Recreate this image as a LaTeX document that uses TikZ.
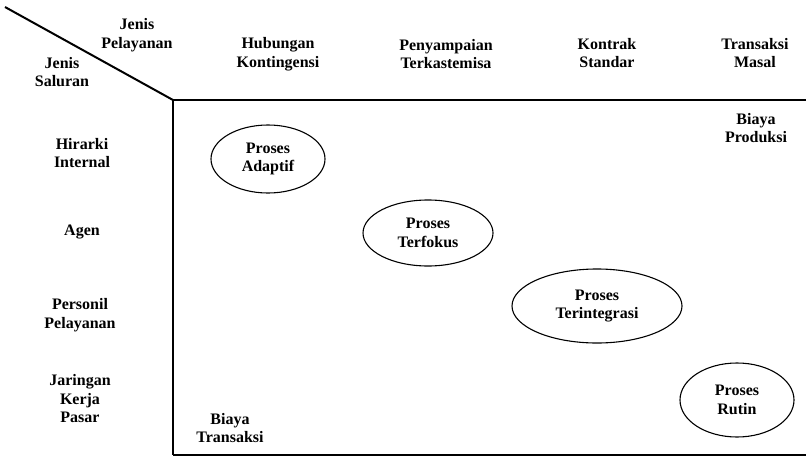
\documentclass[tikz,border=0pt]{standalone}
\usepackage{fontspec}
\setmainfont{Liberation Serif}
\usepackage{tikz}
\usetikzlibrary{shapes.geometric}

\tikzset{
	heading/.style={align=center,inner sep=0pt,font=\fontsize{16}{18.5}\selectfont\bfseries},
	process/.style={shape=ellipse,draw=black,line width=1.1pt,inner sep=0pt,align=center,font=\fontsize{16}{18.5}\selectfont\bfseries}
}

\begin{document}
\begin{tikzpicture}[x=1pt,y=-1pt]
					\useasboundingbox (0,0) rectangle (806,458);
					\coordinate (TL) at (5,7);
					\coordinate (C) at (173,100);
					\coordinate (TR) at (806,100);
					\coordinate (BL) at (173,455);
					\coordinate (BR) at (806,455);
					
					\node[heading] (JP) at (137,35) {Jenis\\Pelayanan};
					\node[heading] (JS) at (62,72) {Jenis\\Saluran};
					\node[heading] (HK) at (278,54) {Hubungan\\Kontingensi};
					\node[heading] (PT) at (446,54) {Penyampaian\\Terkastemisa};
					\node[heading] (KS) at (607,53) {Kontrak\\Standar};
					\node[heading] (TM) at (755,53) {Transaksi\\Masal};
					
					\node[heading] (HI) at (82,153) {Hirarki\\Internal};
					\node[heading] (AG) at (82,232) {Agen};
					\node[heading] (PP) at (80,315) {Personil\\Pelayanan};
					\node[heading] (JK) at (80,399) {Jaringan\\Kerja\\Pasar};
					
					\node[heading] (BP) at (756,128) {Biaya\\Produksi};% 
					\node[heading] (BT) at (230,428) {Biaya\\Transaksi};% 
					
					\node[process,minimum width=114,minimum height=68] (A) at (268,159) {Proses\\Adaptif};
					\node[process,minimum width=130,minimum height=66] (B) at (428,233) {Proses\\Terfokus};
					\node[process,minimum width=170,minimum height=74] (D) at (597,306) {Proses\\Terintegrasi};
					\node[process,minimum width=114,minimum height=74] (E) at (737,400) {Proses\\Rutin};
					
					\path [-, line width=2pt, black] (TL) edge (C);
					\path [-, line width=2pt, black] (C) edge (TR);
					\path [-, line width=2pt, black] (C) edge (BL);
					\path [-, line width=2pt, black] (BL) edge (BR);
\end{tikzpicture}
\end{document}
